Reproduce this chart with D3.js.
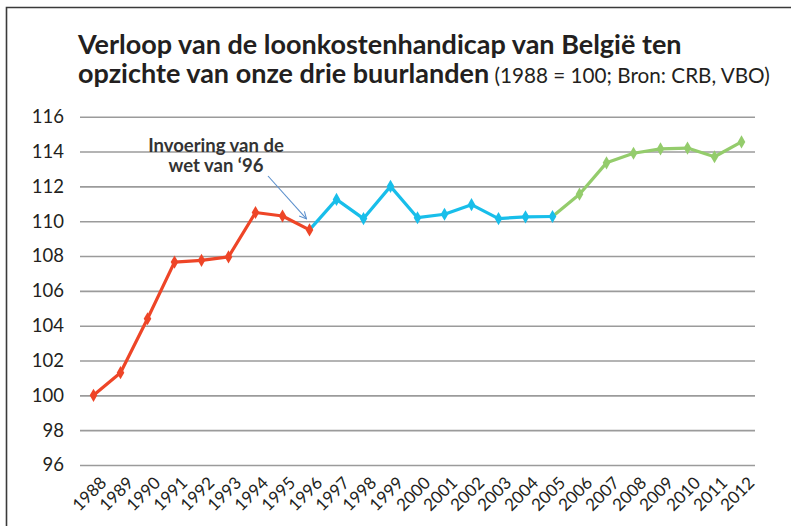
<!DOCTYPE html>
<html><head><meta charset="utf-8">
<script src="https://cdn.jsdelivr.net/npm/d3@7"></script>
<style>
html,body{margin:0;padding:0;background:#fff;}
svg{display:block;font-family:Lato, "Open Sans", sans-serif;}
</style></head>
<body>
<svg id="chart" width="791" height="526"></svg>
<script>
const years = [1988,1989,1990,1991,1992,1993,1994,1995,1996,1997,1998,1999,2000,2001,2002,2003,2004,2005,2006,2007,2008,2009,2010,2011,2012];
const values = [100,101.3,104.4,107.65,107.75,107.95,110.5,110.3,109.5,111.25,110.15,112.0,110.2,110.4,110.95,110.15,110.25,110.27,111.55,113.35,113.9,114.15,114.2,113.7,114.55];
const segments = [
  {from:1988, to:1996, color:"#EE4527"},
  {from:1996, to:2005, color:"#18BEEA"},
  {from:2005, to:2012, color:"#94CC6C"}
];
const yTicks = [96,98,100,102,104,106,108,110,112,114,116];
const titleLine1 = "Verloop van de loonkostenhandicap van België ten";
const titleLine2 = "opzichte van onze drie buurlanden";
const titleNote = " (1988 = 100; Bron: CRB, VBO)";
const annotation = ["Invoering van de","wet van ‘96"];
const annotationYear = 1996;

(function(){
const svg = d3.select("#chart");
const pL = 80, pR = 755, pT = 116.7, pB = 465;

// frame
svg.append("path").attr("d","M6.5,530 L6.5,7.5 L800,7.5").attr("fill","none").attr("stroke","#3a3a3a").attr("stroke-width",1.6);

const x = d3.scaleBand().domain(years).range([pL,pR]);
const y = d3.scaleLinear().domain([96,116]).range([pB,pT]);
const cx = d => x(d) + x.bandwidth()/2;

// title (single text element, two lines)
const title = svg.append("text").attr("fill","#231f20");
title.append("tspan").attr("x",78).attr("y",54).style("font-size","27px").style("font-weight",700).text(titleLine1);
title.append("tspan").attr("x",78).attr("y",82.5).style("font-size","27px").style("font-weight",700).text(titleLine2);
title.append("tspan").style("font-size","20.7px").style("font-weight",400).text(titleNote);

// y grid + labels
const yAxis = svg.append("g").attr("transform",`translate(${pL},0)`)
  .call(d3.axisLeft(y).tickValues(yTicks).tickSize(-(pR-pL)).tickPadding(16).tickFormat(d3.format("d")));
yAxis.select(".domain").remove();
yAxis.selectAll(".tick line").attr("stroke","#9b9b9b").attr("stroke-width",1.6);
yAxis.selectAll(".tick text").attr("fill","#231f20").style("font-size","18.5px").style("font-family","Lato, sans-serif");

// x labels
const xAxis = svg.append("g").attr("transform",`translate(0,${pB})`)
  .call(d3.axisBottom(x).tickSize(0).tickFormat(d3.format("d")));
xAxis.select(".domain").remove();
xAxis.selectAll(".tick text")
  .attr("fill","#231f20").style("font-size","17px").style("font-family","Lato, sans-serif")
  .attr("text-anchor","end").attr("dy",null).attr("y",0)
  .attr("transform","translate(14,19) rotate(-45)");

// lines
const data = years.map((yr,i)=>({year:yr, value:values[i]}));
const line = d3.line().x(d=>cx(d.year)).y(d=>y(d.value));
segments.forEach(s=>{
  svg.append("path").datum(data.filter(d=>d.year>=s.from && d.year<=s.to))
    .attr("d",line).attr("fill","none").attr("stroke",s.color).attr("stroke-width",3.2)
    .attr("stroke-linejoin","round");
});
// markers
const diamond = d3.symbol().type(d3.symbolDiamond).size(50);
segments.forEach((s,k)=>{
  const pts = data.filter(d=>(k===0 ? d.year>=s.from : d.year>s.from) && d.year<=s.to);
  svg.selectAll(null).data(pts).enter().append("path")
    .attr("d",diamond).attr("transform",d=>`translate(${cx(d.year)},${y(d.value)})`)
    .attr("fill",s.color);
});

// annotation
const ann = svg.append("text").attr("fill","#333").style("font-size","18.5px").style("font-weight",700)
  .attr("text-anchor","middle");
annotation.forEach((l,i)=>ann.append("tspan").attr("x",216).attr("y",152+i*20).text(l));
// arrow
const ai = years.indexOf(annotationYear);
const ax = cx(annotationYear)-3, ay = y(values[ai])-11;
svg.append("defs").append("marker").attr("id","ah").attr("viewBox","0 0 10 10").attr("refX",9).attr("refY",5)
  .attr("markerWidth",8).attr("markerHeight",8).attr("orient","auto")
  .append("path").attr("d","M1,1 L9,5 L1,9").attr("fill","none").attr("stroke","#5b8fcc").attr("stroke-width",1.2);
svg.append("line").attr("x1",268).attr("y1",176).attr("x2",ax).attr("y2",ay)
  .attr("stroke","#5b8fcc").attr("stroke-width",1.1).attr("marker-end","url(#ah)");
})();
</script>
</body></html>
